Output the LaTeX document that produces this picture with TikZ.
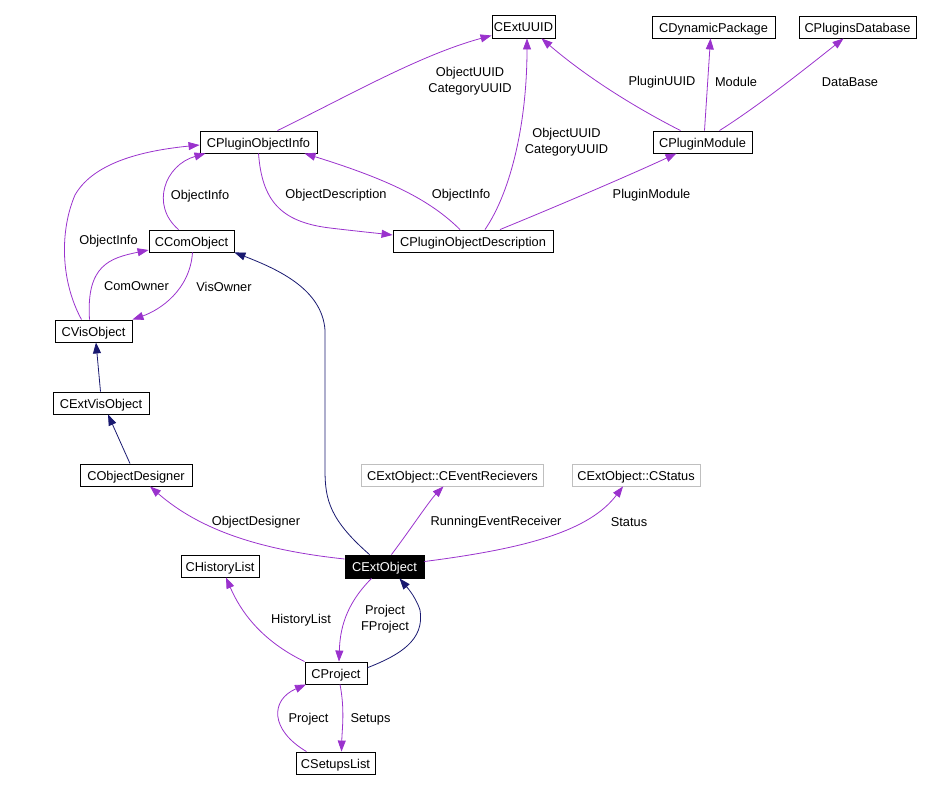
\documentclass[tikz,border=0pt]{standalone}
\usepackage{fontspec}
\setmainfont{Liberation Sans}
\usetikzlibrary{arrows.meta}
\definecolor{usecol}{HTML}{9A32CD}
\definecolor{inhcol}{HTML}{191970}
\definecolor{graybox}{HTML}{BFBFBF}
\tikzset{
  cls/.style={draw=black, line width=0.9pt, fill=white, inner sep=0pt, minimum height=22pt, text height=10.5pt, text depth=-1pt, font=\fontsize{12.8}{16}\selectfont},
  grayc/.style={cls, draw=graybox},
  mainc/.style={cls, fill=black, text=white},
  usage/.style={draw=usecol, line width=0.8pt, -{Triangle[length=11pt,width=8pt]}},
  inherit/.style={draw=inhcol, line width=0.8pt, -{Triangle[length=11pt,width=8pt]}},
  lbl/.style={inner sep=0pt, align=center, font=\fontsize{12.8}{16}\selectfont}
}
\begin{document}
\begin{tikzpicture}[x=1pt,y=-1pt]
\useasboundingbox (0,0) rectangle (928,791);
% nodes
\node[cls, minimum width=63pt, minimum height=23pt] (uuid) at (523.5,26.5) {CExtUUID};
\node[cls, minimum width=123pt] (dp) at (713.5,27) {CDynamicPackage};
\node[cls, minimum width=117pt] (db) at (857.5,27) {CPluginsDatabase};
\node[cls, minimum width=99pt] (pm) at (702.5,142) {CPluginModule};
\node[cls, minimum width=117pt] (poi) at (258.5,142) {CPluginObjectInfo};
\node[cls, minimum width=160pt] (pod) at (473,241) {CPluginObjectDescription};
\node[cls, minimum width=85pt] (com) at (191.5,241) {CComObject};
\node[cls, minimum width=77pt] (vis) at (93.5,331) {CVisObject};
\node[cls, minimum width=96pt] (extvis) at (101,403) {CExtVisObject};
\node[cls, minimum width=112pt] (od) at (136,475) {CObjectDesigner};
\node[grayc, minimum width=182pt] (cer) at (452.5,475) {CExtObject::CEventRecievers};
\node[grayc, minimum width=128pt] (st) at (636,475) {CExtObject::CStatus};
\node[mainc, minimum width=79pt, minimum height=23pt] (eo) at (384.5,566.5) {CExtObject};
\node[cls, minimum width=78pt] (hl) at (220,566) {CHistoryList};
\node[cls, minimum width=62pt] (prj) at (336,673) {CProject};
\node[cls, minimum width=79pt] (sl) at (335.5,763) {CSetupsList};

% usage edges
\draw[usage] ([xshift=19pt]poi.north) .. controls (350,95) and (420,55) .. ([yshift=-9pt]uuid.west);
\draw[usage] ([xshift=12pt]pod.north) .. controls (512,190) and (527,120) .. ([xshift=3.5pt]uuid.south);
\draw[usage] ([xshift=-22pt]pm.north) .. controls (640,110) and (590,80) .. ([xshift=18pt]uuid.south);
\draw[usage] ([xshift=2pt]pm.north) -- ([xshift=-3pt]dp.south);
\draw[usage] ([xshift=17pt]pm.north) .. controls (760,105) and (810,65) .. ([xshift=-14pt]db.south);
\draw[usage] ([xshift=27pt]pod.north) .. controls (560,205) and (630,175) .. ([xshift=-26pt]pm.south);
\draw[usage] (poi.south) .. controls (262,200) and (280,222) .. (330,228) .. controls (355,231) and (375,233) .. ([yshift=6pt]pod.west);
\draw[usage] ([xshift=-13pt]pod.north) .. controls (430,200) and (390,180) .. ([xshift=46pt]poi.south);
\draw[usage] ([xshift=-12pt]vis.north) .. controls (60,280) and (60,230) .. (75,195) .. controls (95,160) and (150,150) .. ([yshift=-3pt]poi.west);
\draw[usage] ([xshift=-13pt]com.north) .. controls (150,205) and (165,165) .. ([xshift=-53pt]poi.south);
\draw[usage] ([xshift=-4pt]vis.north) .. controls (86,265) and (110,258) .. ([yshift=-9pt]com.west);
\draw[usage] ([xshift=1pt]com.south) .. controls (190,290) and (160,310) .. (vis.north east);
\draw[usage] ([yshift=7.5pt]eo.west) .. controls (260,550) and (200,530) .. ([xshift=14pt]od.south);
\draw[usage] ([xshift=7pt]eo.north) .. controls (410,530) and (430,500) .. ([xshift=-9pt]cer.south);
\draw[usage] ([yshift=5pt]eo.east) .. controls (530,548) and (590,530) .. ([xshift=-13pt]st.south);
\draw[usage] (prj.north west) .. controls (260,640) and (240,610) .. ([xshift=6pt]hl.south);
\draw[usage] ([xshift=-13pt]eo.south) .. controls (345,605) and (340,630) .. ([xshift=3pt]prj.north);
\draw[usage] ([xshift=-29pt]sl.north) .. controls (270,730) and (270,700) .. ([xshift=-30pt]prj.south);
\draw[usage] ([xshift=4pt]prj.south) .. controls (345,710) and (342,730) .. ([xshift=6pt]sl.north);

% inheritance edges
\draw[inherit] ([xshift=-0.5pt]extvis.north) -- ([xshift=2.5pt]vis.south);
\draw[inherit] ([xshift=-6pt]od.north) -- ([xshift=7pt]extvis.south);
\draw[inherit] ([xshift=-15pt]eo.north) .. controls (330,520) and (325,500) .. (325,470) -- (325,330) .. controls (322,290) and (280,270) .. (com.south east);
\draw[inherit] ([yshift=5.3pt]prj.east) .. controls (400,655) and (425,640) .. (420,610) .. controls (415,595) and (405,585) .. ([xshift=15pt]eo.south);

% labels
\node[lbl] (l1) at (470,81) {ObjectUUID\\CategoryUUID};
\node[lbl] (l2) at (566.5,142) {ObjectUUID\\CategoryUUID};
\node[lbl] (l3) at (662,82) {PluginUUID};
\node[lbl] (l4) at (736,82) {Module};
\node[lbl] (l5) at (850,82) {DataBase};
\node[lbl] (l6) at (651.5,195) {PluginModule};
\node[lbl] (l7) at (336,195) {ObjectDescription};
\node[lbl] (l8) at (461,195) {ObjectInfo};
\node[lbl] (l9) at (108.5,241.5) {ObjectInfo};
\node[lbl] (l10) at (200,196) {ObjectInfo};
\node[lbl] (l11) at (136.5,286.5) {ComOwner};
\node[lbl] (l12) at (224,286.5) {VisOwner};
\node[lbl] (l13) at (256,522) {ObjectDesigner};
\node[lbl] (l14) at (496,522) {RunningEventReceiver};
\node[lbl] (l15) at (629,522) {Status};
\node[lbl] (l16) at (301,620) {HistoryList};
\node[lbl] (l17) at (385,619.5) {Project\\FProject};
\node[lbl] (l18) at (308.5,719) {Project};
\node[lbl] (l19) at (370.5,719) {Setups};
\end{tikzpicture}
\end{document}
